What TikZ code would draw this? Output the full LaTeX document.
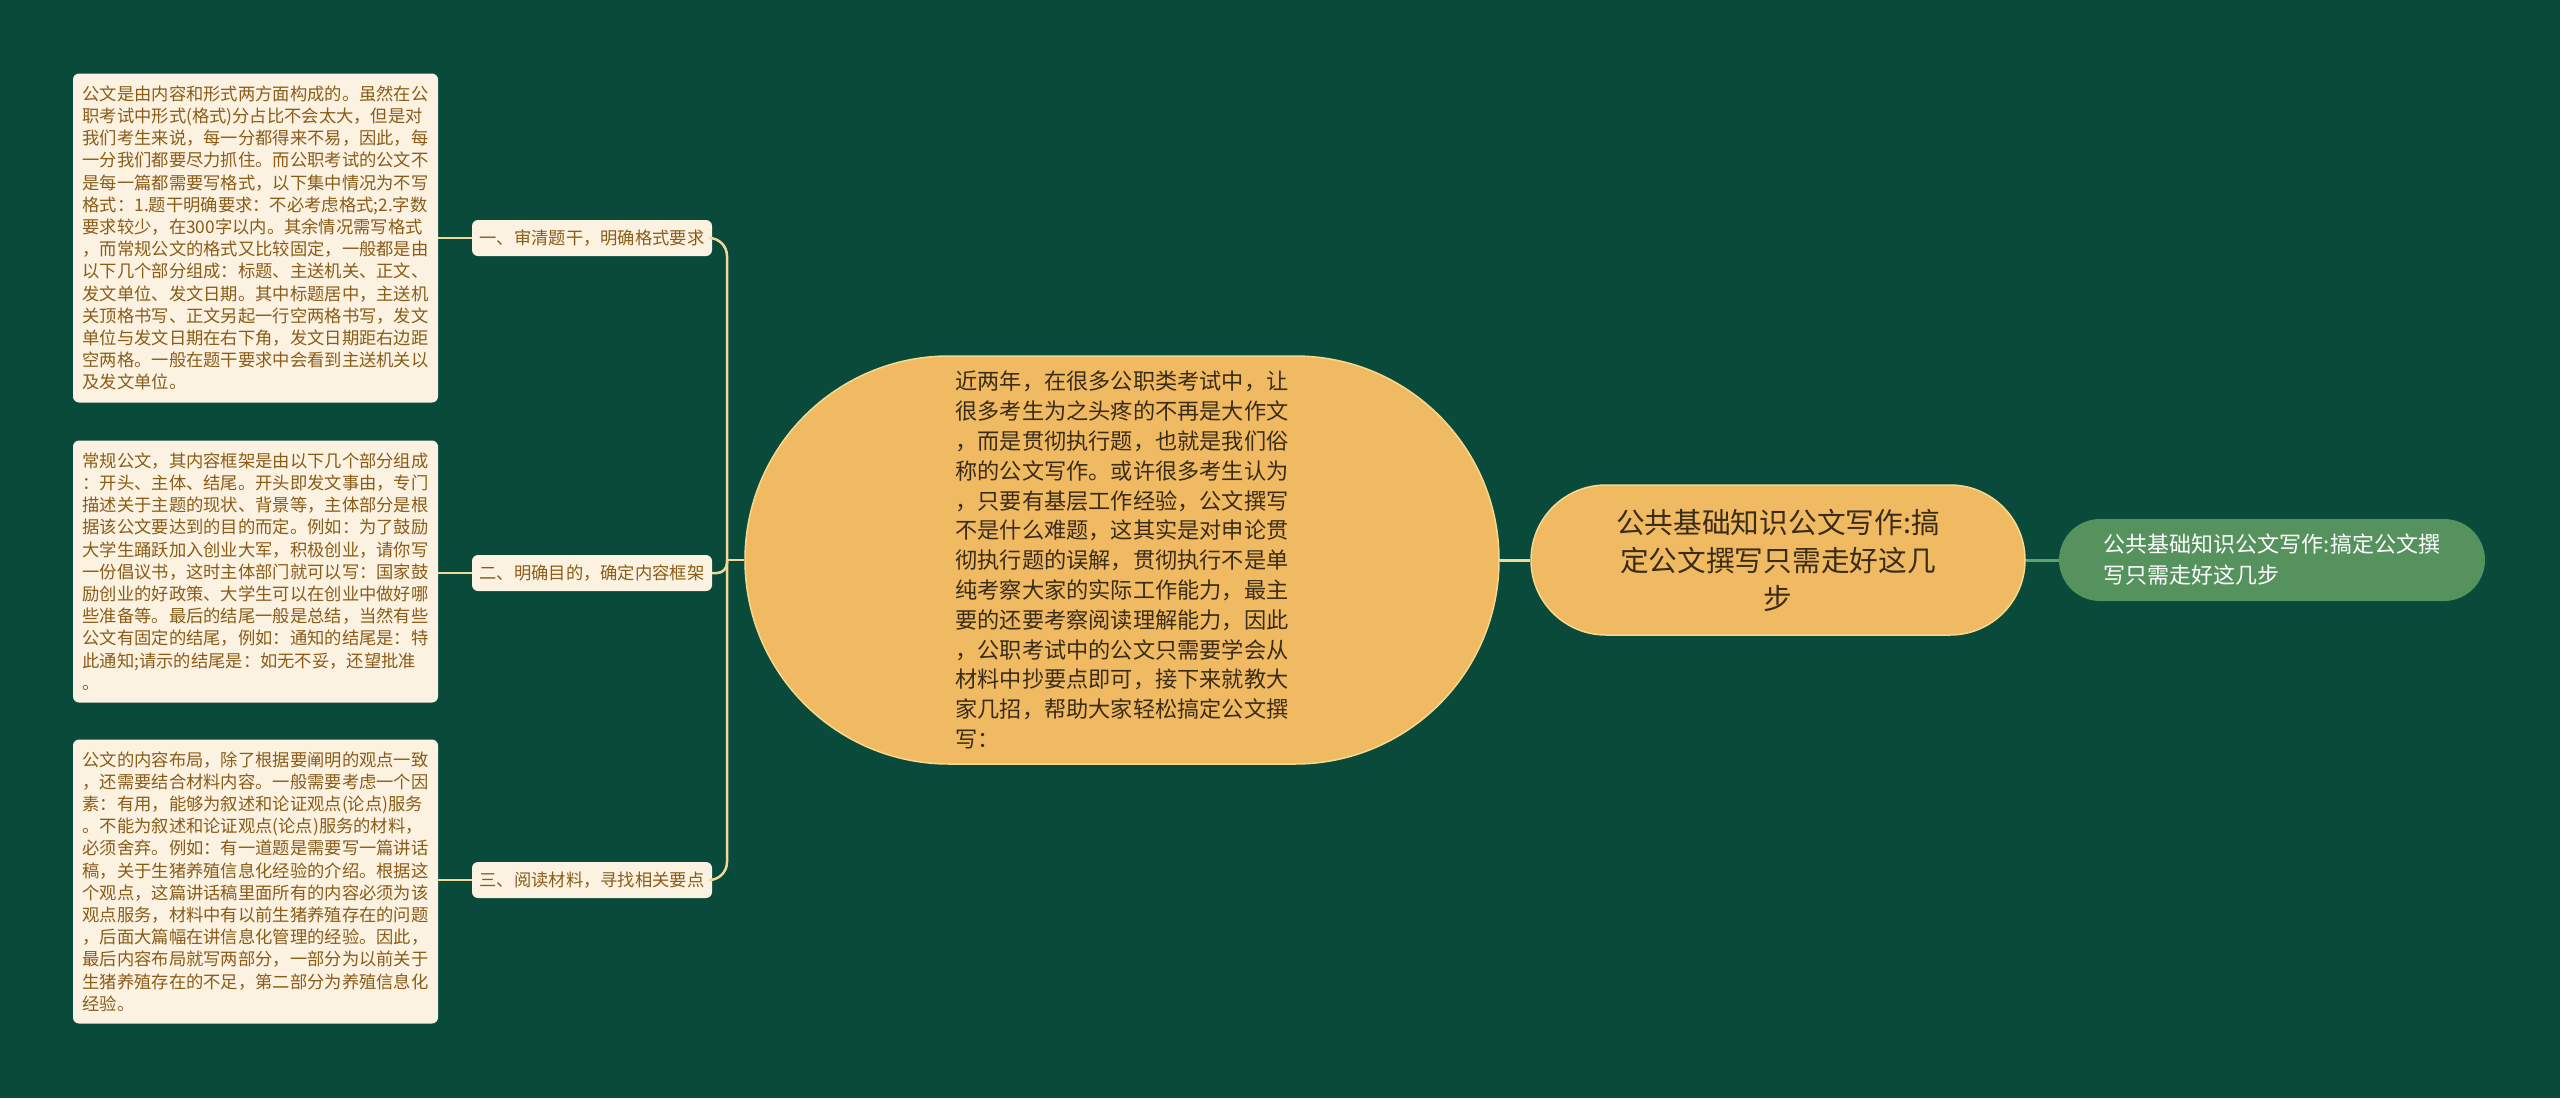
\documentclass[tikz,border=0pt]{standalone}
\usepackage{fontspec}
\newfontfamily\cjk{Noto Sans CJK SC}
\definecolor{bg}{HTML}{094A3A}
\definecolor{orangefill}{HTML}{F0BA62}
\definecolor{orangeedge}{HTML}{F7D88F}
\definecolor{greenfill}{HTML}{55925E}
\definecolor{greenline}{HTML}{62A06C}
\definecolor{creamline}{HTML}{F2D99A}
\definecolor{cardfill}{HTML}{FCF2E2}
\definecolor{cardtext}{HTML}{8A5C17}
\definecolor{darktext}{HTML}{3A2C18}
\tikzset{
  card/.style={fill=cardfill, rounded corners=6pt, inner sep=0pt, align=left,
    text=cardtext, font=\cjk\fontsize{17.3}{22.2}\selectfont,
    minimum width=365pt},
  lab/.style={fill=cardfill, rounded corners=6pt, inner sep=0pt, align=center,
    text=cardtext, font=\cjk\fontsize{17.3}{22.2}\selectfont,
    minimum width=240pt, minimum height=36pt},
  mainnode/.style={fill=orangefill, draw=orangeedge, line width=1.5pt,
    rounded corners=204pt, minimum width=754pt, minimum height=408pt,
    inner sep=0pt, align=left, text=darktext,
    font=\cjk\fontsize{22.2}{29.8}\selectfont},
  rootnode/.style={fill=orangefill, draw=orangeedge, line width=1.5pt,
    rounded corners=75pt, minimum width=494pt, minimum height=150pt,
    inner sep=0pt, align=center, text=darktext,
    font=\cjk\fontsize{28.7}{38}\selectfont},
  leafnode/.style={fill=greenfill, rounded corners=41pt, minimum width=426pt,
    minimum height=82pt, inner sep=0pt, align=left, text=white,
    font=\cjk\fontsize{22}{31}\selectfont},
  conn/.style={draw=creamline, line width=2.5pt},
  gconn/.style={draw=greenline, line width=3pt}
}
\begin{document}
\begin{tikzpicture}[x=1pt,y=-1pt]
\fill[bg] (0,0) rectangle (2560,1098);
\useasboundingbox (0,0) rectangle (2560,1098);

\node[mainnode] (main) at (1122,560) {近两年，在很多公职类考试中，让\\很多考生为之头疼的不再是大作文\\，而是贯彻执行题，也就是我们俗\\称的公文写作。或许很多考生认为\\，只要有基层工作经验，公文撰写\\不是什么难题，这其实是对申论贯\\彻执行题的误解，贯彻执行不是单\\纯考察大家的实际工作能力，最主\\要的还要考察阅读理解能力，因此\\，公职考试中的公文只需要学会从\\材料中抄要点即可，接下来就教大\\家几招，帮助大家轻松搞定公文撰\\写：};

\node[rootnode] (root) at (1778,560) {公共基础知识公文写作:搞\\定公文撰写只需走好这几\\步};

\node[leafnode] (leaf) at (2272,560) {公共基础知识公文写作:搞定公文撰\\写只需走好这几步};

\node[lab] (l1) at (592,238) {一、审清题干，明确格式要求};
\node[lab] (l2) at (592,573) {二、明确目的，确定内容框架};
\node[lab] (l3) at (592,880) {三、阅读材料，寻找相关要点};

\node[card, minimum height=329pt] (b1) at (255.5,238) {公文是由内容和形式两方面构成的。虽然在公\\职考试中形式(格式)分占比不会太大，但是对\\我们考生来说，每一分都得来不易，因此，每\\一分我们都要尽力抓住。而公职考试的公文不\\是每一篇都需要写格式，以下集中情况为不写\\格式：1.题干明确要求：不必考虑格式;2.字数\\要求较少，在300字以内。其余情况需写格式\\，而常规公文的格式又比较固定，一般都是由\\以下几个部分组成：标题、主送机关、正文、\\发文单位、发文日期。其中标题居中，主送机\\关顶格书写、正文另起一行空两格书写，发文\\单位与发文日期在右下角，发文日期距右边距\\空两格。一般在题干要求中会看到主送机关以\\及发文单位。};

\node[card, minimum height=262pt] (b2) at (255.5,571.5) {常规公文，其内容框架是由以下几个部分组成\\：开头、主体、结尾。开头即发文事由，专门\\描述关于主题的现状、背景等，主体部分是根\\据该公文要达到的目的而定。例如：为了鼓励\\大学生踊跃加入创业大军，积极创业，请你写\\一份倡议书，这时主体部门就可以写：国家鼓\\励创业的好政策、大学生可以在创业中做好哪\\些准备等。最后的结尾一般是总结，当然有些\\公文有固定的结尾，例如：通知的结尾是：特\\此通知;请示的结尾是：如无不妥，还望批准\\。};

\node[card, minimum height=284pt] (b3) at (255.5,881.5) {公文的内容布局，除了根据要阐明的观点一致\\，还需要结合材料内容。一般需要考虑一个因\\素：有用，能够为叙述和论证观点(论点)服务\\。不能为叙述和论证观点(论点)服务的材料，\\必须舍弃。例如：有一道题是需要写一篇讲话\\稿，关于生猪养殖信息化经验的介绍。根据这\\个观点，这篇讲话稿里面所有的内容必须为该\\观点服务，材料中有以前生猪养殖存在的问题\\，后面大篇幅在讲信息化管理的经验。因此，\\最后内容布局就写两部分，一部分为以前关于\\生猪养殖存在的不足，第二部分为养殖信息化\\经验。};

\coordinate (j) at (727,560);
\draw[conn] (main.west) -- (j);
\draw[conn, rounded corners=18pt] (j) |- (l1.east);
\draw[conn, rounded corners=10pt] (j) |- (l2.east);
\draw[conn, rounded corners=18pt] (j) |- (l3.east);
\draw[conn] (b1.east) -- (l1.west);
\draw[conn] (b2.east |- l2.west) -- (l2.west);
\draw[conn] (b3.east |- l3.west) -- (l3.west);
\draw[conn, line width=3pt] (main.east) -- (root.west);
\draw[gconn] (root.east) -- (leaf.west);
\end{tikzpicture}
\end{document}
